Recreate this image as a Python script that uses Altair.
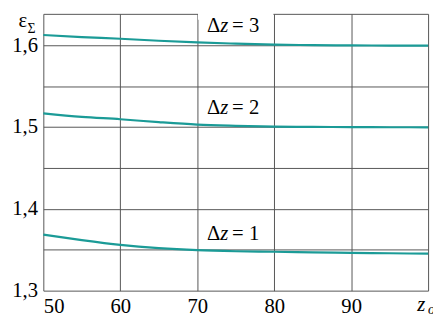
import altair as alt
import pandas as pd

x_vals = [50, 55, 60, 65, 70, 75, 80, 85, 90, 95, 100]
dz3 = [1.6125, 1.6100, 1.6080, 1.6055, 1.6035, 1.6020, 1.6008, 1.6002, 1.5998, 1.5996, 1.5995]
dz2 = [1.5168, 1.5125, 1.5096, 1.5060, 1.5030, 1.5015, 1.5005, 1.5002, 1.5000, 1.4998, 1.4997]
dz1 = [1.3685, 1.3618, 1.3560, 1.3520, 1.3495, 1.3482, 1.3475, 1.3468, 1.3462, 1.3457, 1.3452]
series_names = ["3", "2", "1"]
label_x = [73.0, 73.0, 73.0]
label_y = [1.6157, 1.5157, 1.3624]
box_x = [70.1]
box_x2 = [79.9]

x_ticks = [50, 60, 70, 80, 90, 100]
y_domain = [1.30, 1.6384]
y_grid = [1.30, 1.35, 1.40, 1.45, 1.50, 1.55, 1.60, 1.6384]
x_domain = [50, 100]

rows = []
for name, vals in zip(series_names, [dz3, dz2, dz1]):
    for xv, yv in zip(x_vals, vals):
        rows.append({"z": xv, "e": yv, "s": name})
df = pd.DataFrame(rows)
lab = pd.DataFrame({"x": label_x, "y": label_y, "s": series_names,
                    "rest": ["= " + s for s in series_names]})
boxdf = pd.DataFrame({"x": box_x, "x2": box_x2})

FONT = "Liberation Serif"
TEAL = "#1b9b97"
GRID = "#555555"

xs = alt.Scale(domain=x_domain, nice=False, zero=False)
ys = alt.Scale(domain=y_domain, nice=False, zero=False)

xaxis = alt.Axis(values=x_ticks, grid=True, ticks=False, domain=False,
                 labelExpr="datum.value == 100 ? '' : datum.label",
                 labelFont=FONT, labelFontSize=21, labelColor="black",
                 labelPadding=5, title=None, gridColor=GRID, gridOpacity=1)
yaxis = alt.Axis(values=y_grid, grid=True, ticks=False, domain=False,
                 labelExpr="datum.value > 1.62 ? '' : (abs(datum.value*10 - round(datum.value*10)) < 0.01 ? replace(format(datum.value, '.1f'), '.', ',') : '')",
                 labelFont=FONT, labelFontSize=21, labelColor="black",
                 labelPadding=6, title=None, gridColor=GRID, gridOpacity=1)

lines = alt.Chart(df).mark_line(color=TEAL, strokeWidth=2.2, interpolate="monotone").encode(
    x=alt.X("z:Q", scale=xs, axis=xaxis),
    y=alt.Y("e:Q", scale=ys, axis=yaxis),
    detail="s:N",
)

box = alt.Chart(boxdf).mark_rect(color="white", clip=False).encode(
    x=alt.X("x:Q", scale=xs), x2="x2:Q",
    y=alt.value(-3), y2=alt.value(6),
)

base = alt.Chart(lab)
delta = base.mark_text(font=FONT, fontSize=21, align="right", baseline="alphabetic", color="black").encode(
    x=alt.X("x:Q", scale=xs), y=alt.Y("y:Q", scale=ys), text=alt.value("Δ"))
zed = base.mark_text(font=FONT, fontSize=21, fontStyle="italic", align="left", baseline="alphabetic", color="black").encode(
    x=alt.X("x:Q", scale=xs), y=alt.Y("y:Q", scale=ys), text=alt.value("z"))
rest = base.mark_text(font=FONT, fontSize=21, align="left", baseline="alphabetic", dx=12, color="black").encode(
    x=alt.X("x:Q", scale=xs), y=alt.Y("y:Q", scale=ys), text="rest:N")

one = lab.iloc[[0]]
eps = alt.Chart(one).mark_text(font=FONT, fontSize=21, align="center", baseline="alphabetic").encode(
    x=alt.value(-21), y=alt.value(13), text=alt.value("ε"))
sig = alt.Chart(one).mark_text(font=FONT, fontSize=14, align="center", baseline="alphabetic").encode(
    x=alt.value(-12), y=alt.value(19), text=alt.value("Σ"))
zo = alt.Chart(one).mark_text(font=FONT, fontSize=21, fontStyle="italic", align="left", baseline="alphabetic").encode(
    x=alt.value(381), y=alt.value(21 + 282), text=alt.value("z"))
zo2 = alt.Chart(one).mark_text(font=FONT, fontSize=14, fontStyle="italic", align="left", baseline="alphabetic").encode(
    x=alt.value(392), y=alt.value(24 + 282), text=alt.value("o"))

chart = alt.layer(lines, box, delta, zed, rest, eps, sig, zo, zo2).properties(
    width=392, height=282,
    autosize=alt.AutoSizeParams(type="none"),
    padding={"left": 36, "top": 3, "right": 5, "bottom": 30},
    background="white",
).configure(font=FONT).configure_view(stroke=None).configure_axis(labelFont=FONT).configure_text(font=FONT)

chart.save("out.html", embed_options={"renderer": "svg", "actions": False})
